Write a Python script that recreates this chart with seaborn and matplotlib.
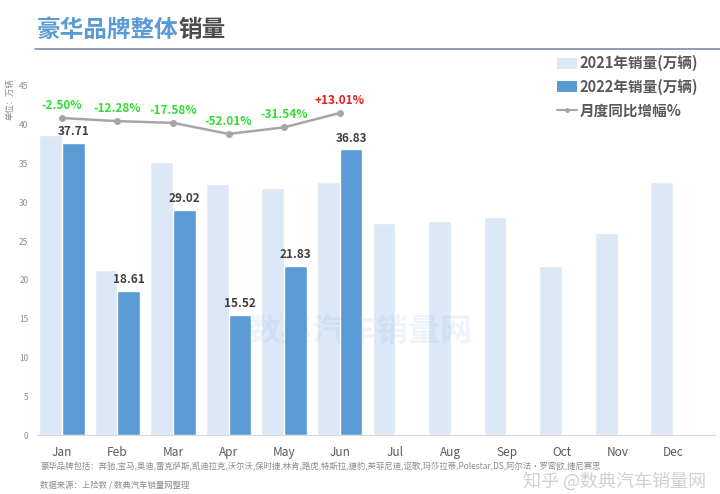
import matplotlib
matplotlib.use('Agg')
import matplotlib.pyplot as plt
from matplotlib.patches import Patch
from matplotlib.lines import Line2D
import seaborn as sns
import pandas as pd
import numpy as np

# =============================================================================
# Data
# =============================================================================
months = ['Jan', 'Feb', 'Mar', 'Apr', 'May', 'Jun', 'Jul', 'Aug', 'Sep', 'Oct', 'Nov', 'Dec']
sales_2021 = [38.68, 21.21, 35.21, 32.34, 31.89, 32.59, 27.35, 27.6, 28.1, 21.8, 26.1, 32.6]
sales_2022 = [37.71, 18.61, 29.02, 15.52, 21.83, 36.83]
growth_pct = [-2.50, -12.28, -17.58, -52.01, -31.54, 13.01]
growth_labels = ['-2.50%', '-12.28%', '-17.58%', '-52.01%', '-31.54%', '+13.01%']

series_2021 = '2021年销量(万辆)'
series_2022 = '2022年销量(万辆)'
series_line = '月度同比增幅%'

rows = []
for m, v in zip(months, sales_2021):
    rows.append({'month': m, 'year': series_2021, 'sales': v})
for m, v in zip(months, sales_2022):
    rows.append({'month': m, 'year': series_2022, 'sales': v})
df = pd.DataFrame(rows)

# =============================================================================
# Style
# =============================================================================
sns.set_style('white')
plt.rcParams['font.family'] = ['Noto Sans CJK SC', 'DejaVu Sans']
plt.rcParams['axes.unicode_minus'] = False

light_blue = '#dce8f5'
dark_blue = '#5b9bd5'
line_grey = '#a6a6a6'
text_grey = '#595959'

fig = plt.figure(figsize=(7.2, 4.94), dpi=100)
ax = fig.add_axes([0.051, 0.1194, 0.942, 0.7066])

sns.barplot(data=df, x='month', y='sales', hue='year', order=months,
            hue_order=[series_2021, series_2022],
            palette=[light_blue, dark_blue], width=0.82, saturation=1,
            ax=ax, legend=False)

ax.set_ylim(0, 45)
ax.set_xlim(-0.45, 11.75)
ax.set_yticks(np.arange(0, 46, 5))
ax.tick_params(axis='y', labelsize=6, colors='#8c8c8c', length=0, pad=6)
ax.tick_params(axis='x', labelsize=8.5, colors=text_grey, length=0, pad=8)
ax.set_xlabel('')
ax.set_ylabel('')
for s in ['top', 'right', 'left']:
    ax.spines[s].set_visible(False)
ax.spines['bottom'].set_color('#d9d9d9')
ax.spines['bottom'].set_linewidth(0.8)

# value labels on 2022 bars
for i, v in enumerate(sales_2022):
    ax.text(i + 0.205, v + 0.6, f'{v:.2f}', ha='center', va='bottom',
            fontsize=8.5, fontweight='bold', color='#404040')

# growth line on hidden secondary axis
ax2 = ax.twinx()
ax2.set_ylim(-987, 97)
x_line = np.arange(len(growth_pct))
ax2.plot(x_line, growth_pct, color=line_grey, linewidth=1.8, marker='o', markersize=4)
for xi, g, lab in zip(x_line, growth_pct, growth_labels):
    ax2.annotate(lab, (xi, g), xytext=(0, 4.5), textcoords='offset points',
                 ha='center', va='bottom', fontsize=8.5, fontweight='bold',
                 color='#e02020' if g > 0 else '#33dd33')
ax2.axis('off')

# unit label
fig.text(0.014, 0.8, '单位：万辆', rotation=90, fontsize=6, color='#8c8c8c',
         ha='center', va='center')

# title
fig.text(0.051, 0.939, '豪华品牌整体', fontsize=17, fontweight='bold', color=dark_blue,
         ha='left', va='center')
fig.text(0.051 + 0.197, 0.939, '销量', fontsize=17, fontweight='bold', color='#4d4d4d',
         ha='left', va='center')
fig.add_artist(Line2D([0.049, 1.0], [0.901, 0.901], color='#7f8fa6', linewidth=1.2))

# legend
handles = [Patch(facecolor=light_blue, edgecolor='none'),
           Patch(facecolor=dark_blue, edgecolor='none'),
           Line2D([0], [0], color=line_grey, linewidth=1.5, marker='o', markersize=2.5)]
leg = fig.legend(handles, [series_2021, series_2022, series_line],
                 loc='upper left', bbox_to_anchor=(0.765, 0.9), frameon=False,
                 fontsize=10.5, handlelength=1.4, handleheight=0.8, handletextpad=0.2,
                 labelspacing=0.5, borderaxespad=0)
for t in leg.get_texts():
    t.set_color(text_grey)
    t.set_fontweight('bold')

# watermark
fig.text(0.5, 0.328, '数典汽车销量网', fontsize=23, fontweight='bold', color=dark_blue,
         alpha=0.1, ha='center', va='center')
fig.text(0.98, 0.026, '知乎 @数典汽车销量网', fontsize=13, color='#c8c8c8',
         alpha=0.85, ha='right', va='center')

# footnotes
fig.text(0.056, 0.056, '豪华品牌包括：奔驰,宝马,奥迪,雷克萨斯,凯迪拉克,沃尔沃,保时捷,林肯,路虎,特斯拉,捷豹,英菲尼迪,讴歌,玛莎拉蒂,Polestar,DS,阿尔法·罗密欧,捷尼赛思',
         fontsize=6, color='#8c8c8c', ha='left', va='center')
fig.text(0.056, 0.018, '数据来源：上险数 / 数典汽车销量网整理', fontsize=6, color='#8c8c8c',
         ha='left', va='center')

fig.savefig('out.png', dpi=100)
